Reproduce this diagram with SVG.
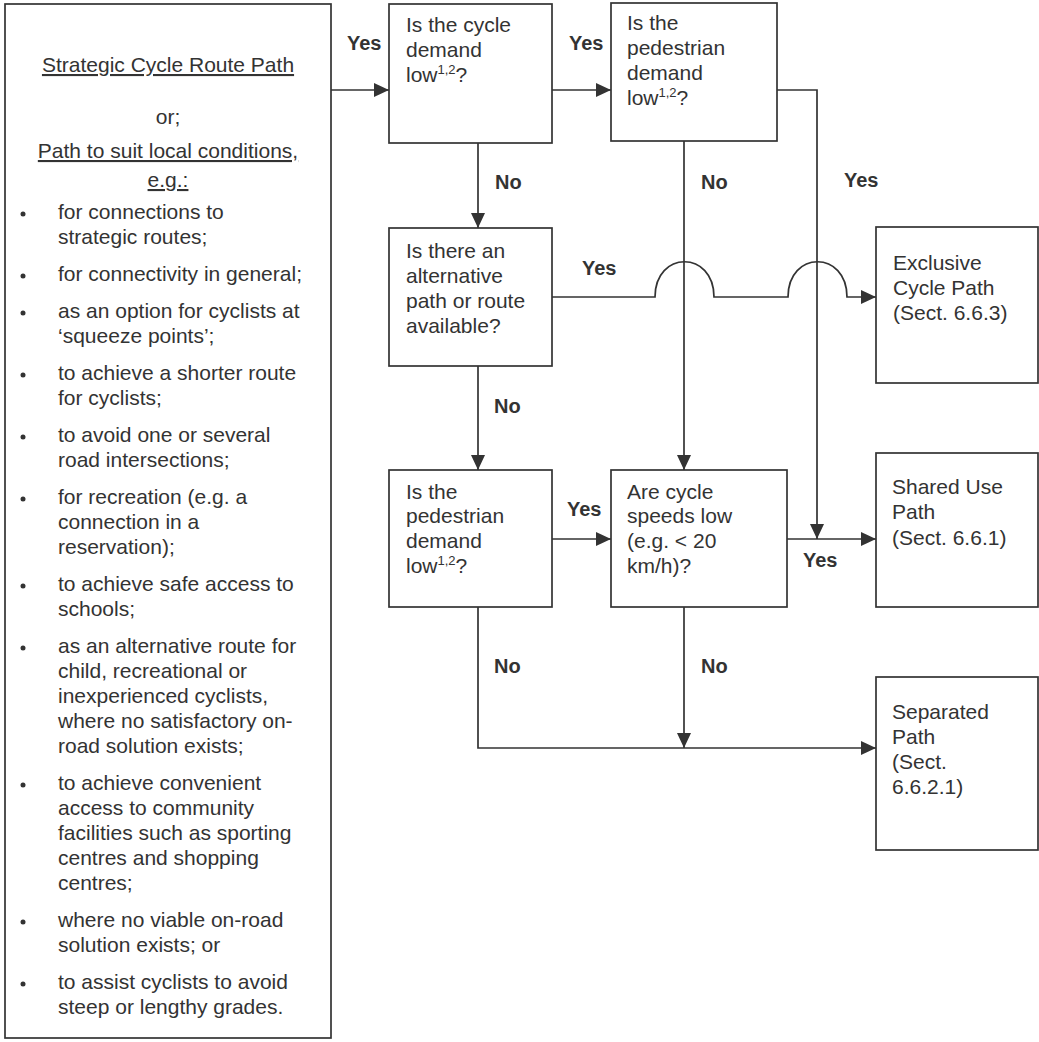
<svg xmlns="http://www.w3.org/2000/svg" width="1039" height="1042" viewBox="0 0 1039 1042">
<defs>
<style>
.box{fill:#fff;stroke:#333;stroke-width:1.7}
.ln{fill:none;stroke:#333;stroke-width:1.7}
.t{font-family:"Liberation Sans",Arial,sans-serif;font-size:21px;fill:#333}
.c{text-anchor:middle}
.u{text-decoration:underline}
.lb{font-family:"Liberation Sans",Arial,sans-serif;font-size:20px;font-weight:bold;fill:#333}
.sup{font-size:13px}
.bul{fill:#333}
</style>
<marker id="ah" markerUnits="userSpaceOnUse" markerWidth="15" markerHeight="14" refX="15" refY="7" orient="auto">
<path d="M0,0 L15,7 L0,14 z" fill="#333"/>
</marker>
</defs>
<rect width="1039" height="1042" fill="#fff"/>

<g id="connectors">
<path class="ln" d="M331,90 L389,90" marker-end="url(#ah)"/>
<path class="ln" d="M552,90 L611,90" marker-end="url(#ah)"/>
<path class="ln" d="M478,143 L478,228" marker-end="url(#ah)"/>
<path class="ln" d="M684,141 L684,470" marker-end="url(#ah)"/>
<path class="ln" d="M777,90 L817,90 L817,539" marker-end="url(#ah)"/>
<path class="ln" d="M552,297 L655,297 C655,250 714,250 714,297 L788,297 C788,250 847,250 847,297 L876,297" marker-end="url(#ah)"/>
<path class="ln" d="M478,366 L478,470" marker-end="url(#ah)"/>
<path class="ln" d="M552,539 L611,539" marker-end="url(#ah)"/>
<path class="ln" d="M787,539 L876,539" marker-end="url(#ah)"/>
<path class="ln" d="M478,607 L478,748 L876,748" marker-end="url(#ah)"/>
<path class="ln" d="M684,607 L684,748" marker-end="url(#ah)"/>
</g>

<g id="labels">
<text class="lb" x="347" y="50">Yes</text>
<text class="lb" x="569" y="50">Yes</text>
<text class="lb" x="495" y="189">No</text>
<text class="lb" x="701" y="189">No</text>
<text class="lb" x="844" y="187">Yes</text>
<text class="lb" x="582" y="275">Yes</text>
<text class="lb" x="494" y="413">No</text>
<text class="lb" x="567" y="516">Yes</text>
<text class="lb" x="803" y="567">Yes</text>
<text class="lb" x="494" y="673">No</text>
<text class="lb" x="701" y="673">No</text>
</g>

<g id="node-conditions">
<rect class="box" x="5" y="4" width="326" height="1034"/>
<text class="t c u" x="168" y="72">Strategic Cycle Route Path</text>
<text class="t c" x="168" y="124">or;</text>
<text class="t c u" x="168" y="158">Path to suit local conditions,</text>
<text class="t c u" x="168" y="187">e.g.:</text>
<g class="bul">
<circle cx="23" cy="214" r="2.5"/>
<circle cx="23" cy="276" r="2.5"/>
<circle cx="23" cy="313" r="2.5"/>
<circle cx="23" cy="375" r="2.5"/>
<circle cx="23" cy="437" r="2.5"/>
<circle cx="23" cy="499" r="2.5"/>
<circle cx="23" cy="586" r="2.5"/>
<circle cx="23" cy="648" r="2.5"/>
<circle cx="23" cy="785" r="2.5"/>
<circle cx="23" cy="922" r="2.5"/>
<circle cx="23" cy="984" r="2.5"/>
</g>
<text class="t" x="58" y="219">for connections to</text>
<text class="t" x="58" y="244">strategic routes;</text>
<text class="t" x="58" y="281">for connectivity in general;</text>
<text class="t" x="58" y="318">as an option for cyclists at</text>
<text class="t" x="58" y="343">‘squeeze points’;</text>
<text class="t" x="58" y="380">to achieve a shorter route</text>
<text class="t" x="58" y="405">for cyclists;</text>
<text class="t" x="58" y="442">to avoid one or several</text>
<text class="t" x="58" y="467">road intersections;</text>
<text class="t" x="58" y="504">for recreation (e.g. a</text>
<text class="t" x="58" y="529">connection in a</text>
<text class="t" x="58" y="554">reservation);</text>
<text class="t" x="58" y="591">to achieve safe access to</text>
<text class="t" x="58" y="616">schools;</text>
<text class="t" x="58" y="653">as an alternative route for</text>
<text class="t" x="58" y="678">child, recreational or</text>
<text class="t" x="58" y="703">inexperienced cyclists,</text>
<text class="t" x="58" y="728">where no satisfactory on-</text>
<text class="t" x="58" y="753">road solution exists;</text>
<text class="t" x="58" y="790">to achieve convenient</text>
<text class="t" x="58" y="815">access to community</text>
<text class="t" x="58" y="840">facilities such as sporting</text>
<text class="t" x="58" y="865">centres and shopping</text>
<text class="t" x="58" y="890">centres;</text>
<text class="t" x="58" y="927">where no viable on-road</text>
<text class="t" x="58" y="952">solution exists; or</text>
<text class="t" x="58" y="989">to assist cyclists to avoid</text>
<text class="t" x="58" y="1014">steep or lengthy grades.</text>
</g>

<g id="node-cycle-demand">
<rect class="box" x="389" y="4" width="163" height="139"/>
<text class="t" x="406" y="32">Is the cycle</text>
<text class="t" x="406" y="57">demand</text>
<text class="t" x="406" y="82">low<tspan class="sup" dy="-8">1,2</tspan><tspan dy="8">?</tspan></text>
</g>

<g id="node-ped-demand-1">
<rect class="box" x="611" y="3" width="166" height="138"/>
<text class="t" x="627" y="30">Is the</text>
<text class="t" x="627" y="55">pedestrian</text>
<text class="t" x="627" y="80">demand</text>
<text class="t" x="627" y="105">low<tspan class="sup" dy="-8">1,2</tspan><tspan dy="8">?</tspan></text>
</g>

<g id="node-alternative">
<rect class="box" x="389" y="228" width="163" height="138"/>
<text class="t" x="406" y="258">Is there an</text>
<text class="t" x="406" y="283">alternative</text>
<text class="t" x="406" y="308">path or route</text>
<text class="t" x="406" y="333">available?</text>
</g>

<g id="node-ped-demand-2">
<rect class="box" x="389" y="470" width="163" height="137"/>
<text class="t" x="406" y="499">Is the</text>
<text class="t" x="406" y="523">pedestrian</text>
<text class="t" x="406" y="548">demand</text>
<text class="t" x="406" y="573">low<tspan class="sup" dy="-8">1,2</tspan><tspan dy="8">?</tspan></text>
</g>

<g id="node-speeds">
<rect class="box" x="611" y="470" width="176" height="137"/>
<text class="t" x="627" y="499">Are cycle</text>
<text class="t" x="627" y="523">speeds low</text>
<text class="t" x="627" y="548">(e.g. &lt; 20</text>
<text class="t" x="627" y="573">km/h)?</text>
</g>

<g id="node-exclusive">
<rect class="box" x="876" y="227" width="162" height="156"/>
<text class="t" x="893" y="270">Exclusive</text>
<text class="t" x="893" y="295">Cycle Path</text>
<text class="t" x="893" y="320">(Sect. 6.6.3)</text>
</g>

<g id="node-shared">
<rect class="box" x="876" y="453" width="162" height="154"/>
<text class="t" x="892" y="494">Shared Use</text>
<text class="t" x="892" y="519">Path</text>
<text class="t" x="892" y="545">(Sect. 6.6.1)</text>
</g>

<g id="node-separated">
<rect class="box" x="876" y="677" width="162" height="173"/>
<text class="t" x="892" y="719">Separated</text>
<text class="t" x="892" y="744">Path</text>
<text class="t" x="892" y="769">(Sect.</text>
<text class="t" x="892" y="794">6.6.2.1)</text>
</g>
</svg>
